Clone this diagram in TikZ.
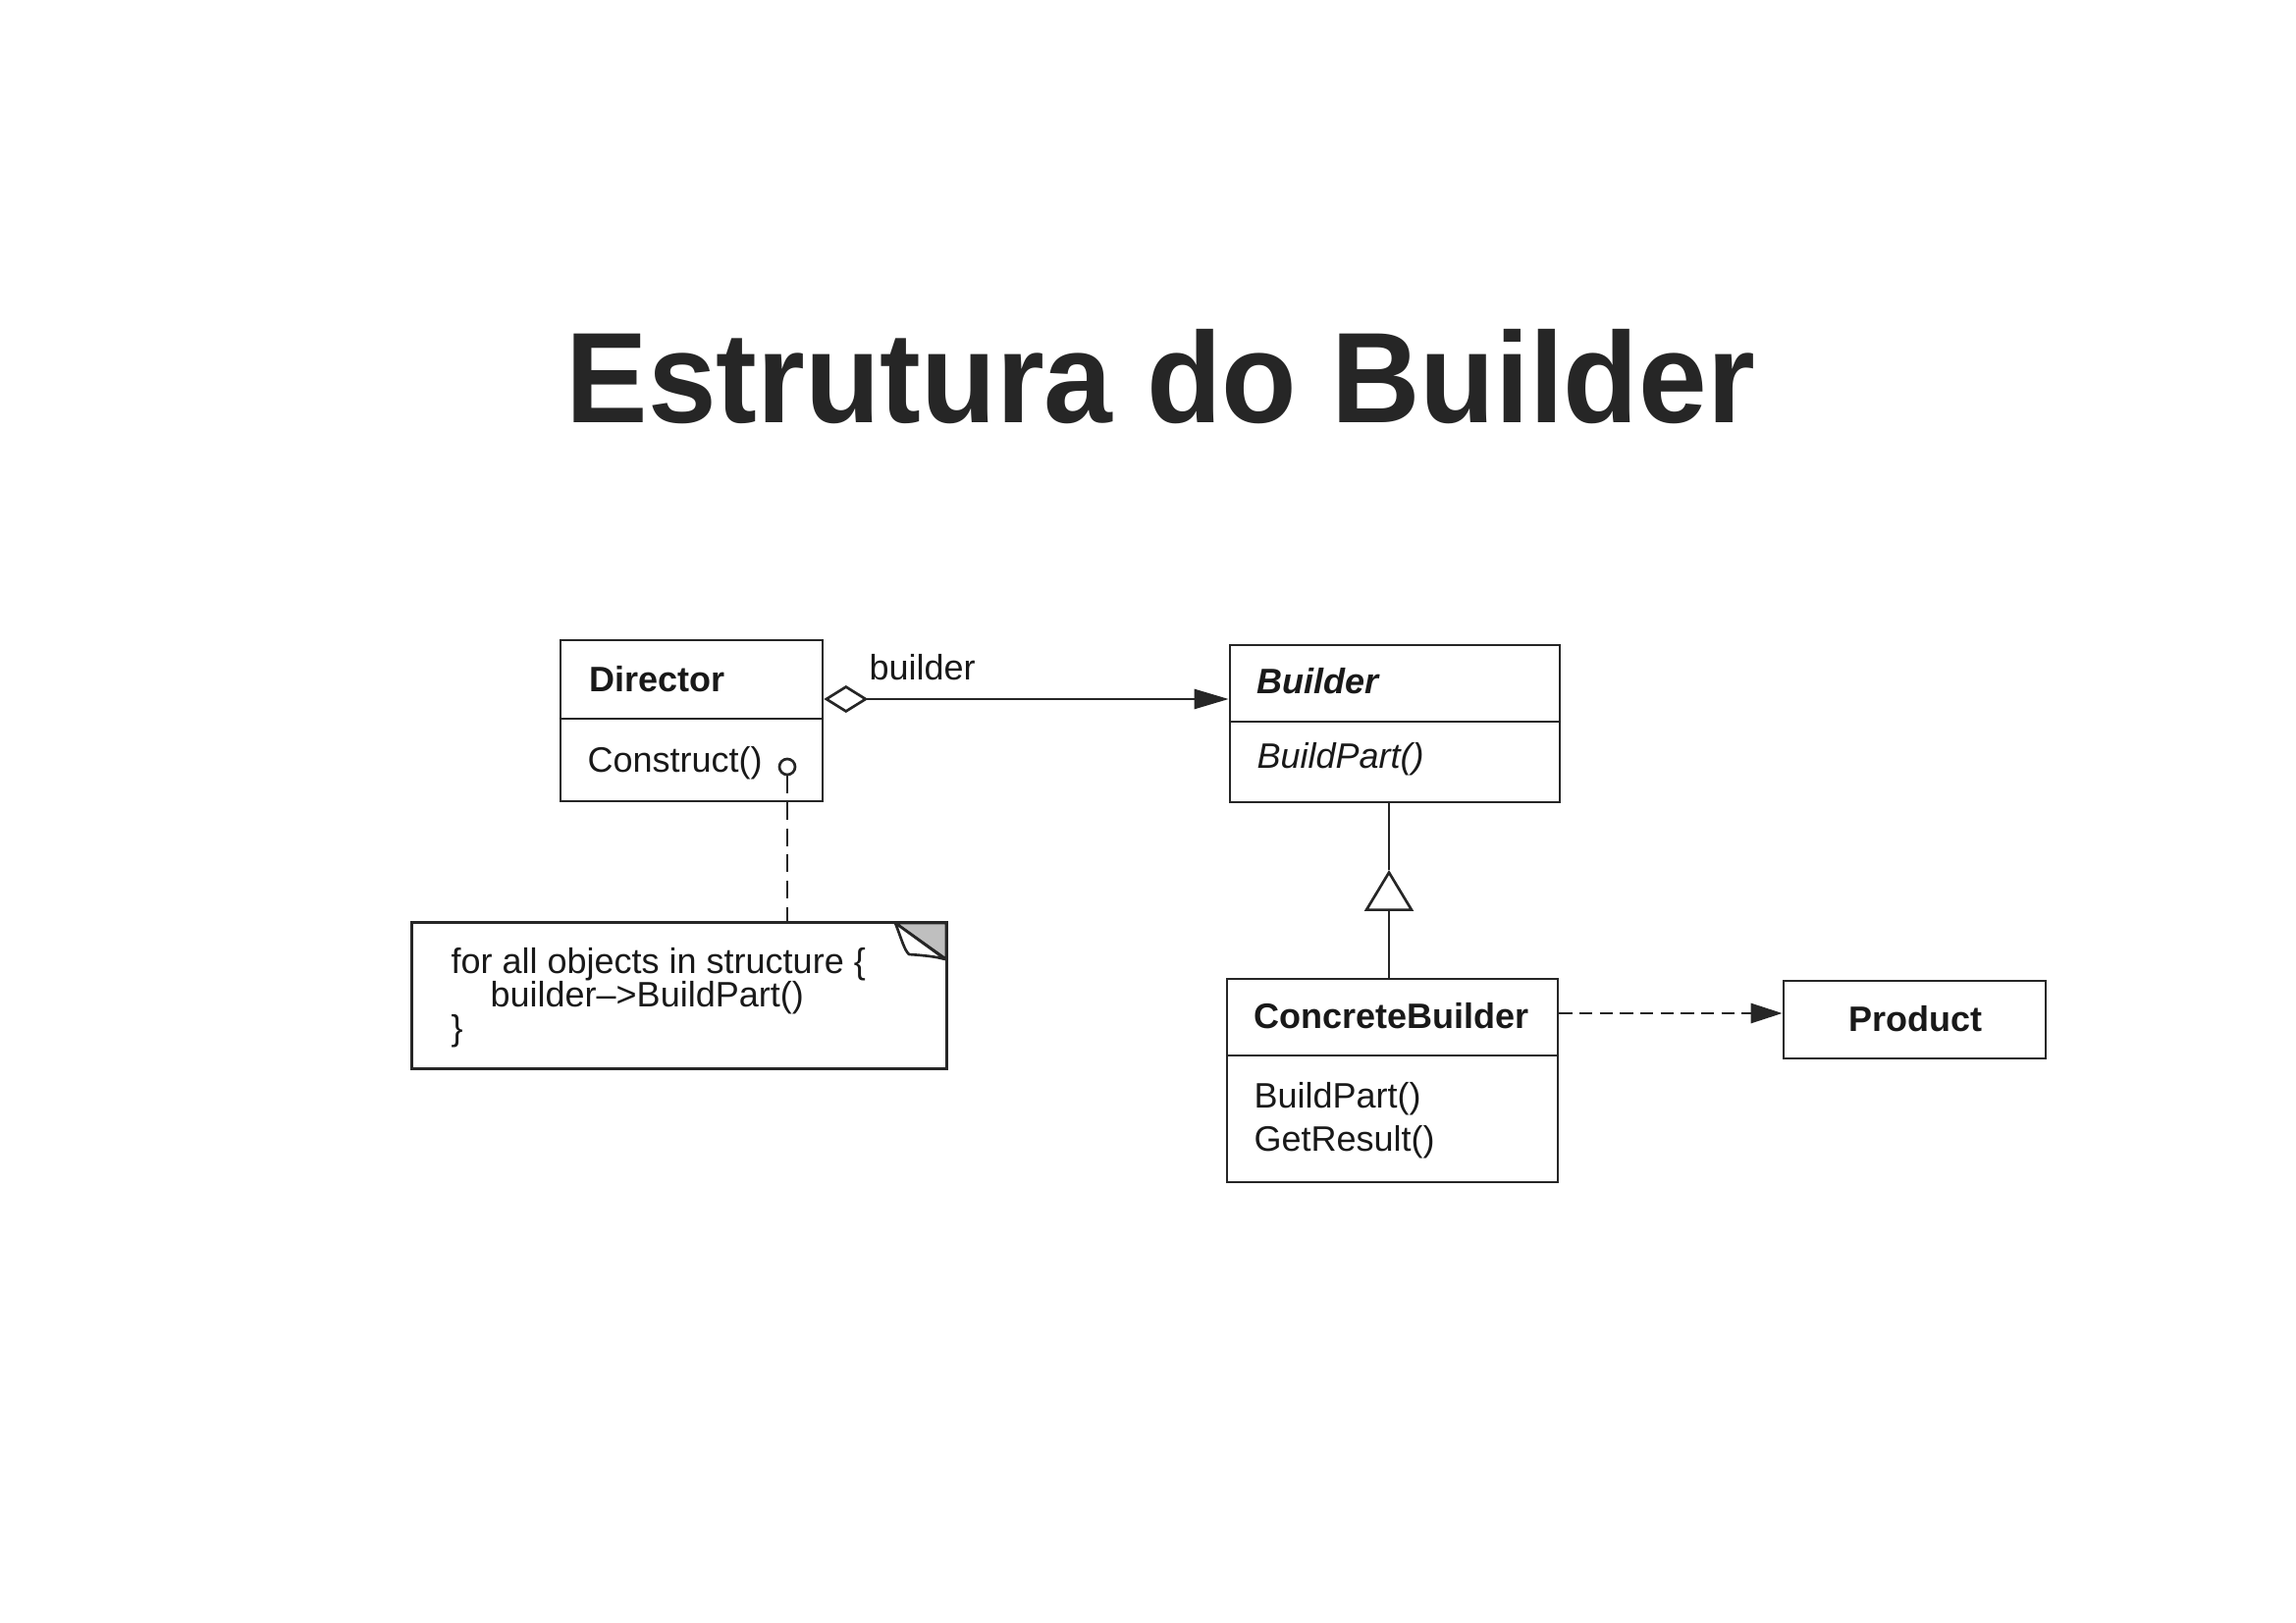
\documentclass[tikz,border=0pt]{standalone}
\usepackage{fontspec}
\setmainfont{Liberation Sans}
\usetikzlibrary{arrows.meta}
\begin{document}
\begin{tikzpicture}[x=0.3pt,y=-0.3pt,
  umlline/.style={draw=black!85, line width=0.8pt},
  classbox/.style={umlline, rectangle, inner sep=0pt},
  lbl/.style={anchor=base west, inner sep=0pt, text=black!90, font=\fontsize{10.8}{12}\selectfont},
  dashA/.style={dash pattern=on 4pt off 2.2pt},
  dashB/.style={dash pattern=on 5.4pt off 2.6pt}]
\useasboundingbox (0,0) rectangle (2339,1653);
\fill[white] (0,0) rectangle (2339,1653);

% title
\node[anchor=base west, inner sep=0pt, text=black!85, font=\bfseries\fontsize{39.4}{44}\selectfont] (title) at (576,431) {\scalebox{0.954}[1]{Estrutura do Builder}};

% class boxes
\node[classbox, minimum width=80.1pt, minimum height=49.2pt] (director) at (704.5,734) {};
\node[classbox, minimum width=100.8pt, minimum height=48pt] (builder) at (1421,737) {};
\node[classbox, minimum width=101.1pt, minimum height=62.1pt] (cb) at (1418.5,1100.5) {};
\node[classbox, minimum width=80.1pt, minimum height=23.7pt] (product) at (1950.5,1038.5) {};

% dividers
\coordinate (dd) at (0,732);
\coordinate (bd) at (0,735);
\coordinate (cd) at (0,1075);
\draw[umlline] (director.west |- dd) -- (director.east |- dd);
\draw[umlline] (builder.west |- bd) -- (builder.east |- bd);
\draw[umlline] (cb.west |- cd) -- (cb.east |- cd);

% texts
\node[lbl, font=\bfseries\fontsize{10.8}{12}\selectfont] (tdir) at (600,705) {Director};
\node[lbl] (tcons) at (598,787) {Construct()};
\node[lbl, font=\bfseries\itshape\fontsize{10.8}{12}\selectfont] (tbld) at (1280,707) {Builder};
\node[lbl, font=\itshape\fontsize{10.8}{12}\selectfont] (tbp) at (1280,783) {BuildPart()};
\node[lbl, font=\bfseries\fontsize{10.8}{12}\selectfont] (tcb) at (1277,1047) {ConcreteBuilder};
\node[lbl] (tcbp) at (1277,1129) {BuildPart()};
\node[lbl] (tgr) at (1277,1172) {GetResult()};
\node[lbl, anchor=base, font=\bfseries\fontsize{10.8}{12}\selectfont] (tprod) at (1951,1051) {Product};

% aggregation
\coordinate (agg) at (0,712);
\draw[umlline, {Diamond[open,length=13.5pt,width=8.4pt]}-{Triangle[length=10.5pt,width=6pt]}] (director.east |- agg) -- (builder.west |- agg);
\node[lbl] (tagg) at (885,693) {builder};

% generalization
\coordinate (gtip) at (1415,886);
\draw[umlline, -{Triangle[open,length=12.6pt,width=15pt]}] (cb.north -| gtip) -- (gtip);
\draw[umlline] (gtip) -- (builder.south -| gtip);

% dependency
\coordinate (dep) at (0,1032);
\draw[umlline, dashA, -{Triangle[length=9.6pt,width=6pt]}] (cb.east |- dep) -- (product.west |- dep);

% note
\node[inner sep=0pt, minimum width=163.2pt, minimum height=44.4pt] (note) at (692,1014) {};
\draw[umlline] (note.north west) rectangle (note.south east);
\filldraw[umlline, line join=round, fill=black!25] (912,940) -- (964,940) -- (964,977) -- cycle;
\filldraw[umlline, line join=round, fill=white] (912,940) .. controls (919,958) and (921,967) .. (926,972) .. controls (940,973) and (952,974) .. (963,977) -- cycle;
\node[lbl] (n1) at (459,992) {for all objects in structure \{};
\node[lbl] (n2) at (499,1026) {builder–>BuildPart()};
\node[lbl] (n3) at (459,1060) {\}};

% note anchor
\node[circle, umlline, fill=white, minimum size=4.8pt, inner sep=0pt] (knob) at (802,781) {};
\draw[umlline, dashB] (knob.south) -- (knob.south |- note.north);
\end{tikzpicture}
\end{document}
